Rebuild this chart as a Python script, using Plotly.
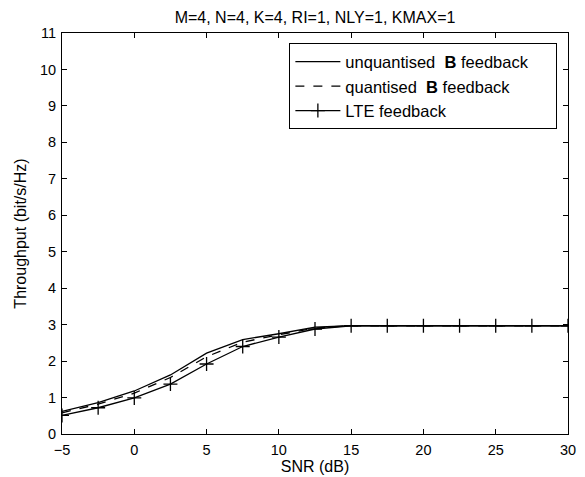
import plotly.graph_objects as go

snr = [-5, -2.5, 0, 2.5, 5, 7.5, 10, 12.5, 15, 17.5, 20, 22.5, 25, 27.5, 30]
unquantised = [0.62, 0.86, 1.18, 1.62, 2.22, 2.59, 2.75, 2.93, 2.97, 2.97, 2.97, 2.97, 2.97, 2.97, 2.97]
quantised = [0.58, 0.82, 1.12, 1.55, 2.12, 2.52, 2.72, 2.91, 2.97, 2.97, 2.97, 2.97, 2.97, 2.97, 2.97]
lte = [0.51, 0.72, 0.99, 1.37, 1.92, 2.40, 2.66, 2.88, 2.97, 2.97, 2.97, 2.97, 2.97, 2.97, 2.97]

xticks = [-5, 0, 5, 10, 15, 20, 25, 30]
xticklabels = ["\u22125", "0", "5", "10", "15", "20", "25", "30"]
yticks = list(range(0, 12))

font = "Liberation Sans, Arial, Helvetica, sans-serif"
fs_tick = 14.5
fs_lab = 16
fs_leg = 16.5

fig = go.Figure()
fig.add_trace(go.Scatter(x=snr, y=unquantised, mode="lines",
                         name="unquantised  <b>B</b> feedback\u00a0\u00a0\u00a0\u00a0\u00a0", legendgroup="a",
                         line=dict(color="black", width=1.3)))
fig.add_trace(go.Scatter(x=snr, y=quantised, mode="lines",
                         name="quantised  <b>B</b> feedback", legendgroup="b",
                         line=dict(color="black", width=1.3, dash="dash")))
fig.add_trace(go.Scatter(x=snr, y=lte, mode="lines+markers",
                         name="LTE feedback", legendgroup="c",
                         line=dict(color="black", width=1.3),
                         marker=dict(symbol="cross-thin", size=10,
                                     line=dict(color="black", width=1.3))))

axis_common = dict(showgrid=False, zeroline=False, showline=True, mirror="ticks",
                   linecolor="black", linewidth=1, ticks="inside", ticklen=5,
                   automargin=False,
                   tickcolor="black", tickfont=dict(size=fs_tick, color="black", family=font))

fig.update_layout(
    width=585, height=477,
    margin=dict(l=62, r=17, t=33, b=43),
    paper_bgcolor="white", plot_bgcolor="white",
    font=dict(family=font, size=fs_tick, color="black"),
    title=dict(text="M=4, N=4, K=4, RI=1, NLY=1, KMAX=1", x=0.5, xref="paper",
               y=0.964, yanchor="middle", font=dict(size=fs_lab, family=font, color="black")),
    xaxis=dict(range=[-5, 30], tickvals=xticks, ticktext=xticklabels, ticklabelstandoff=3,
               title=dict(text="SNR (dB)", standoff=1, font=dict(size=fs_lab)), **axis_common),
    yaxis=dict(range=[0, 11], tickvals=yticks, ticklabelstandoff=2,
               title=dict(text="Throughput (bit/s/Hz)", standoff=9, font=dict(size=fs_lab)), **axis_common),
    legend=dict(x=0.979, y=0.974, xanchor="right", yanchor="top",
                bgcolor="white", bordercolor="black", borderwidth=1,
                font=dict(size=fs_leg, family=font, color="black"),
                tracegroupgap=0, itemwidth=45),
    showlegend=True,
)

fig.write_html("out.html")
